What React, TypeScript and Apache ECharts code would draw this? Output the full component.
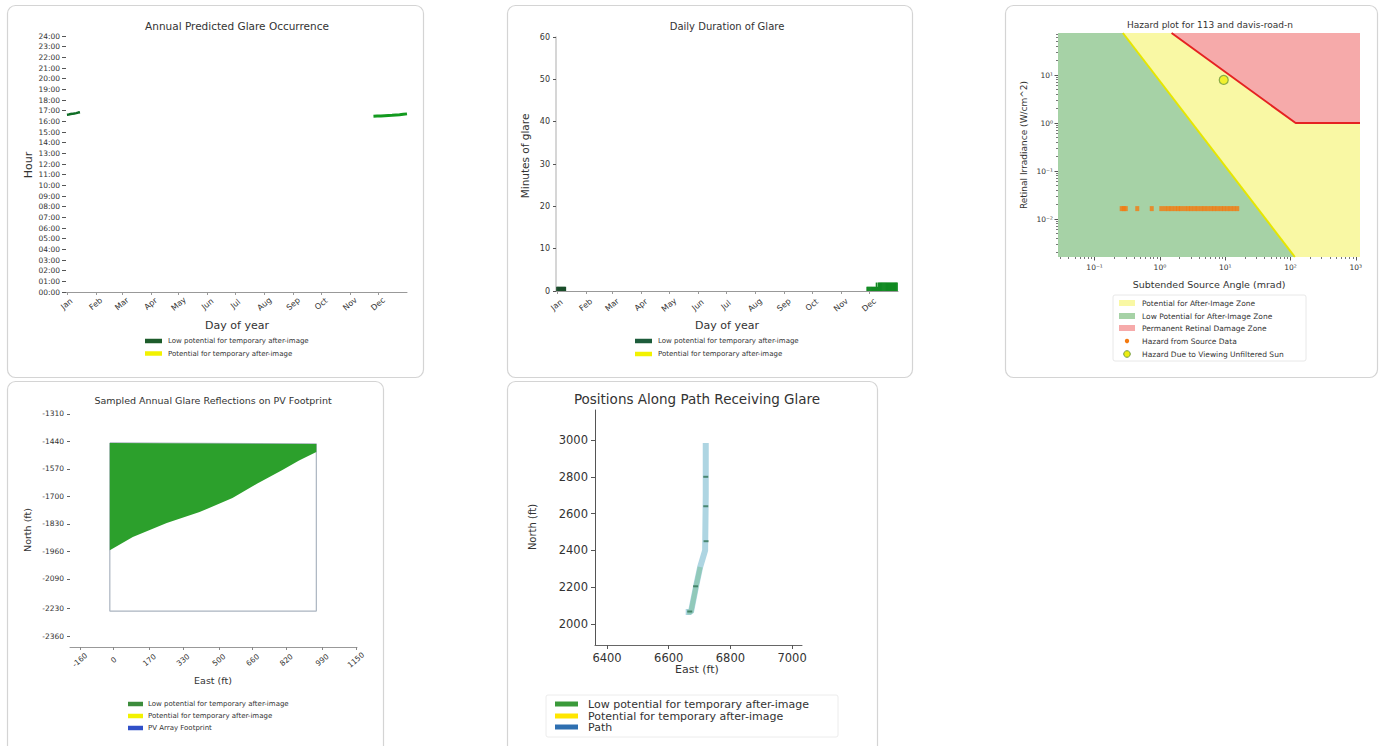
import React, { useEffect, useRef } from 'react';
import * as echarts from 'echarts';

const FONT = '"DejaVu Sans", sans-serif';

// ---------- Panel 1 & 2: calendar ----------
const months = ['Jan', 'Feb', 'Mar', 'Apr', 'May', 'Jun', 'Jul', 'Aug', 'Sep', 'Oct', 'Nov', 'Dec'];
const monthStartDays = [1, 32, 60, 91, 121, 152, 182, 213, 244, 274, 305, 335];

// Panel 1: annual predicted glare occurrence (day of year, hour)
const janGlareDays = [1, 3, 5, 7, 9, 11, 13, 15];
const janGlareHours = [16.62, 16.64, 16.68, 16.7, 16.74, 16.77, 16.82, 16.86];
const decGlareDays = [330, 334, 338, 342, 346, 350, 354, 358, 362, 366];
const decGlareHours = [16.47, 16.49, 16.5, 16.52, 16.54, 16.56, 16.59, 16.62, 16.66, 16.7];

// Panel 2: daily duration of glare (minutes)
const janDurDays = [1, 2, 3, 4, 5, 6, 7, 8, 9, 10];
const janDurMinutes = [1, 1, 1, 1, 1, 1, 1, 1, 1, 1];
const decDurDays = [333, 334, 335, 336, 337, 338, 339, 340, 341, 342, 343, 344, 345, 346, 347, 348, 349, 350, 351, 352, 353, 354, 355, 356, 357, 358, 359, 360, 361, 362, 363, 364, 365];
const decDurMinutes = [1, 1, 1, 1, 1, 1, 1, 1, 1, 1, 2, 1, 2, 2, 2, 2, 2, 2, 2, 2, 2, 2, 2, 2, 2, 2, 2, 2, 2, 2, 2, 2, 2];

// ---------- Panel 3: hazard plot ----------
const hazardXRange = [0.0275, 1161];
const hazardYRange = [0.00162, 75];
const afterImageLineX = [0.271, 116.7];
const afterImageLineY = [75, 0.00162];
const damageLineX = [1.51, 120, 1161];
const damageLineY = [75, 1.0, 1.0];
const hazardAngles = [0.26, 0.28, 0.3, 0.45, 0.75, 1.05, 1.2, 1.35, 1.5, 1.7, 1.9, 2.1, 2.4, 2.7, 3.0, 3.4, 3.8, 4.3, 4.8, 5.4, 6.1, 6.8, 7.6, 8.6, 9.6, 10.8, 12.1, 13.6, 15.3];
const hazardIrradiance = hazardAngles.map(() => 0.0165);
const sunAngle = [9.5];
const sunIrradiance = [7.9];
const xMajorExp = [-1, 0, 1, 2, 3];
const yMajorExp = [-2, -1, 0, 1];
const supLabels: Record<string, string> = { '-2': '10⁻²', '-1': '10⁻¹', '0': '10⁰', '1': '10¹', '2': '10²', '3': '10³' };

// ---------- Panel 4: PV footprint ----------
const p4XTicks = [-160, 0, 170, 330, 500, 660, 820, 990, 1150];
const p4YTicks = [-1310, -1440, -1570, -1700, -1830, -1960, -2090, -2230, -2360];
const glareEast = [-18, 962, 962, 880, 801, 680, 564, 408, 252, 91, -18];
const glareNorth = [-1447, -1452, -1490, -1530, -1575, -1640, -1708, -1774, -1826, -1892, -1954];
const footprintEast = [-18, -18, 962, 962, -18];
const footprintNorth = [-1447, -2242, -2242, -1452, -1447];

// ---------- Panel 5: path ----------
const p5XTicks = [6400, 6600, 6800, 7000];
const p5YTicks = [2000, 2200, 2400, 2600, 2800, 3000];
const pathEast = [6655, 6672, 6688, 6702, 6718, 6720, 6720];
const pathNorth = [2065, 2065, 2200, 2310, 2400, 2700, 2984];
const glareSegEast = [6660, 6672, 6688, 6702];
const glareSegNorth = [2065, 2065, 2200, 2310];
const glarePtEast = [6720, 6720, 6721, 6687, 6668];
const glarePtNorth = [2800, 2640, 2450, 2205, 2068];

const zip = (a: number[], b: number[]) => a.map((v, i) => [v, b[i]]);
const lg = (v: number) => Math.log10(v);
const plain = (v: number) => String(v);

function txt(text: string, x: number, y: number, size: number, o: any = {}) {
  return {
    type: 'text', x, y, z: 100, silent: true, rotation: o.rotation || 0,
    style: {
      text, fill: o.color || '#333', fontSize: size, fontFamily: FONT, fontWeight: o.weight || 'normal',
      align: o.align || 'center', verticalAlign: 'middle', textAlign: o.align || 'center', textVerticalAlign: 'middle',
    },
  };
}
function swatch(x: number, y: number, w: number, h: number, color: string) {
  return { type: 'rect', z: 100, silent: true, shape: { x, y: y - h / 2, width: w, height: h }, style: { fill: color } };
}
function card(x: number, y: number, w: number, h: number) {
  return { type: 'rect', z: -10, silent: true, shape: { x, y, width: w, height: h, r: 8 }, style: { fill: '#fff', stroke: '#d4d4d4', lineWidth: 1.2 } };
}

function polySeries(xi: number, yi: number, pts: number[][], color: string, z = 1) {
  return {
    type: 'custom', xAxisIndex: xi, yAxisIndex: yi, silent: true, clip: true, z,
    data: [pts[0]],
    renderItem: (_p: any, api: any) => ({
      type: 'polygon',
      shape: { points: pts.map((p) => api.coord(p)) },
      style: { fill: color },
    }),
  };
}

export default function App() {
  const ref = useRef<HTMLDivElement>(null);
  useEffect(() => {
    if (!ref.current) return;
    const chart = echarts.init(ref.current, undefined, { renderer: 'svg' });

    const lx0 = lg(hazardXRange[0]), lx1 = lg(hazardXRange[1]);
    const ly0 = lg(hazardYRange[0]), ly1 = lg(hazardYRange[1]);
    const xMinor: number[] = [];
    const yMinor: number[] = [];
    for (let n = -3; n <= 3; n++) {
      for (let k = 2; k <= 9; k++) {
        const v = Math.log10(k) + n;
        if (v > lx0 && v < lx1) xMinor.push(v);
        if (v > ly0 && v < ly1) yMinor.push(v);
      }
    }
    const tickLbl = { color: '#333', fontFamily: FONT };

    const greenZone = [[lx0, ly0], [lx1, ly0], [lx1, ly1], [lx0, ly1]];
    const aiTop = [lg(afterImageLineX[0]), lg(afterImageLineY[0])];
    const aiBot = [lg(afterImageLineX[1]), lg(afterImageLineY[1])];
    const yellowZone = [aiTop, [lx1, ly1], [lx1, ly0], aiBot];
    const dmg = zip(damageLineX.map(lg), damageLineY.map(lg));
    const redZone = [dmg[0], dmg[1], dmg[2], [lx1, ly1]];

    const option: any = {
      animation: false,
      grid: [
        { left: 66, top: 36, width: 341, height: 256 },
        { left: 556, top: 37, width: 342, height: 254 },
        { left: 1058, top: 33, width: 302, height: 224 },
        { left: 70, top: 404, width: 287, height: 243 },
        { left: 595, top: 410, width: 207, height: 235 },
      ],
      xAxis: [
        {
          gridIndex: 0, type: 'value', min: 0, max: 366, splitLine: { show: false },
          axisLine: { show: true, onZero: false, lineStyle: { color: '#999', width: 1 } },
          axisTick: { show: true, customValues: monthStartDays, length: 3, lineStyle: { color: '#999' } },
          axisLabel: { ...tickLbl, customValues: monthStartDays, formatter: (v: number) => months[monthStartDays.indexOf(v)], rotate: 40, align: 'center', verticalAlign: 'middle', margin: 12, fontSize: 8 },
        },
        {
          gridIndex: 1, type: 'value', min: 0, max: 366, splitLine: { show: false },
          axisLine: { show: true, onZero: false, lineStyle: { color: '#999', width: 1 } },
          axisTick: { show: true, customValues: monthStartDays, length: 3, lineStyle: { color: '#999' } },
          axisLabel: { ...tickLbl, customValues: monthStartDays, formatter: (v: number) => months[monthStartDays.indexOf(v)], rotate: 40, align: 'center', verticalAlign: 'middle', margin: 14, fontSize: 8 },
        },
        {
          gridIndex: 2, type: 'value', position: 'bottom', min: lx0, max: lx1, splitLine: { show: false },
          axisLine: { show: false, onZero: false },
          axisTick: { show: true, customValues: xMajorExp, length: 3.5, lineStyle: { color: '#555' } },
          axisLabel: { ...tickLbl, customValues: xMajorExp, formatter: (v: number) => supLabels[String(v)], fontSize: 7.5, margin: 6 },
        },
        {
          gridIndex: 2, type: 'value', position: 'bottom', min: lx0, max: lx1, splitLine: { show: false },
          axisLine: { show: false, onZero: false }, axisLabel: { show: false },
          axisTick: { show: true, customValues: xMinor, length: 2, lineStyle: { color: '#777' } },
        },
        {
          gridIndex: 3, type: 'value', min: -207, max: 1155, splitLine: { show: false },
          axisLine: { show: true, onZero: false, lineStyle: { color: '#999', width: 1 } },
          axisTick: { show: true, customValues: p4XTicks, length: 3, lineStyle: { color: '#888' } },
          axisLabel: { ...tickLbl, customValues: p4XTicks, formatter: plain, rotate: 40, align: 'center', verticalAlign: 'middle', margin: 13, fontSize: 7.5 },
        },
        {
          gridIndex: 4, type: 'value', min: 6361, max: 7032, splitLine: { show: false },
          axisLine: { show: true, onZero: false, lineStyle: { color: '#666', width: 1 } },
          axisTick: { show: true, customValues: p5XTicks, length: 4, lineStyle: { color: '#555' } },
          axisLabel: { ...tickLbl, customValues: p5XTicks, formatter: plain, fontSize: 11.5, margin: 7 },
        },
      ],
      yAxis: [
        {
          gridIndex: 0, type: 'value', min: 0, max: 24, interval: 1, splitLine: { show: false },
          axisLine: { show: false, onZero: false },
          axisTick: { show: true, length: 4, lineStyle: { color: '#555' } },
          axisLabel: { ...tickLbl, fontSize: 7.5, margin: 6, formatter: (v: number) => (v < 10 ? '0' : '') + v + ':00' },
        },
        {
          gridIndex: 1, type: 'value', min: 0, max: 60, interval: 10, splitLine: { show: false },
          axisLine: { show: true, onZero: false, lineStyle: { color: '#c8c8c8', width: 1.5 } },
          axisTick: { show: true, length: 3, lineStyle: { color: '#555' } },
          axisLabel: { ...tickLbl, fontSize: 8, margin: 6 },
        },
        {
          gridIndex: 2, type: 'value', position: 'left', min: ly0, max: ly1, splitLine: { show: false },
          axisLine: { show: false, onZero: false },
          axisTick: { show: true, customValues: yMajorExp, length: 3.5, lineStyle: { color: '#555' } },
          axisLabel: { ...tickLbl, customValues: yMajorExp, formatter: (v: number) => supLabels[String(v)], fontSize: 7.5, margin: 5 },
        },
        {
          gridIndex: 2, type: 'value', position: 'left', min: ly0, max: ly1, splitLine: { show: false },
          axisLine: { show: false, onZero: false }, axisLabel: { show: false },
          axisTick: { show: true, customValues: yMinor, length: 2, lineStyle: { color: '#777' } },
        },
        {
          gridIndex: 3, type: 'value', min: -2412, max: -1263, splitLine: { show: false },
          axisLine: { show: false, onZero: false },
          axisTick: { show: true, customValues: p4YTicks, length: 3, lineStyle: { color: '#666' } },
          axisLabel: { ...tickLbl, customValues: p4YTicks, formatter: plain, fontSize: 7.5, margin: 6 },
        },
        {
          gridIndex: 4, type: 'value', min: 1886, max: 3163, splitLine: { show: false },
          axisLine: { show: true, onZero: false, lineStyle: { color: '#555', width: 1 } },
          axisTick: { show: true, customValues: p5YTicks, length: 4, lineStyle: { color: '#555' } },
          axisLabel: { ...tickLbl, customValues: p5YTicks, formatter: plain, fontSize: 11.5, margin: 7 },
        },
      ],
      series: [
        // Panel 1
        { type: 'line', xAxisIndex: 0, yAxisIndex: 0, data: zip(janGlareDays, janGlareHours), symbol: 'none', lineStyle: { color: '#0f6e26', width: 2.5 }, silent: true },
        { type: 'line', xAxisIndex: 0, yAxisIndex: 0, data: zip(decGlareDays, decGlareHours), symbol: 'none', lineStyle: { color: '#139a1f', width: 3 }, silent: true },
        // Panel 2
        { type: 'bar', xAxisIndex: 1, yAxisIndex: 1, data: zip(janDurDays, janDurMinutes), barWidth: 1.6, itemStyle: { color: '#1a4d2a' }, silent: true },
        { type: 'bar', xAxisIndex: 1, yAxisIndex: 1, data: zip(decDurDays, decDurMinutes), barWidth: 1.6, barGap: '-100%', itemStyle: { color: '#118a22' }, silent: true },
        // Panel 3 zones
        polySeries(2, 2, greenZone, '#a6d2a6', 1),
        polySeries(2, 2, yellowZone, '#f9f8a4', 2),
        polySeries(2, 2, redZone, '#f6aaaa', 3),
        { type: 'line', xAxisIndex: 2, yAxisIndex: 2, z: 4, data: [aiTop, aiBot], symbol: 'none', lineStyle: { color: '#e6e600', width: 2 }, silent: true },
        { type: 'line', xAxisIndex: 2, yAxisIndex: 2, z: 4, data: dmg, symbol: 'none', lineStyle: { color: '#e52222', width: 2 }, silent: true },
        { type: 'scatter', xAxisIndex: 2, yAxisIndex: 2, z: 5, data: zip(hazardAngles.map(lg), hazardIrradiance.map(lg)), symbol: 'rect', symbolSize: [4, 5], itemStyle: { color: '#f47a10' }, silent: true },
        { type: 'scatter', xAxisIndex: 2, yAxisIndex: 2, z: 6, data: zip(sunAngle.map(lg), sunIrradiance.map(lg)), symbol: 'circle', symbolSize: 9, itemStyle: { color: '#eded10', borderColor: '#6f9a3c', borderWidth: 1.2 }, silent: true },
        // Panel 4
        { type: 'line', xAxisIndex: 4, yAxisIndex: 4, z: 1, data: zip(footprintEast, footprintNorth), symbol: 'none', lineStyle: { color: '#aab4c0', width: 1.2 }, silent: true },
        polySeries(4, 4, zip(glareEast, glareNorth), '#2ca02c', 2),
        // Panel 5
        { type: 'line', xAxisIndex: 5, yAxisIndex: 5, z: 1, data: zip(pathEast, pathNorth), symbol: 'none', lineStyle: { color: '#aed5e2', width: 6 }, silent: true },
        { type: 'line', xAxisIndex: 5, yAxisIndex: 5, z: 2, data: zip(glareSegEast, glareSegNorth), symbol: 'none', lineStyle: { color: '#2ca02c', width: 5, opacity: 0.22 }, silent: true },
        { type: 'scatter', xAxisIndex: 5, yAxisIndex: 5, z: 3, data: zip(glarePtEast, glarePtNorth), symbol: 'rect', symbolSize: [5, 2], itemStyle: { color: '#2f7355', opacity: 0.8 }, silent: true },
      ],
      graphic: [
        card(7.5, 5.5, 416, 372),
        card(507.5, 5.5, 405, 372),
        card(1005.5, 5.5, 372, 372),
        card(7.5, 381.5, 376, 380),
        card(507.5, 381.5, 370, 380),
        // Panel 1 texts
        txt('Annual Predicted Glare Occurrence', 237, 26, 10.5),
        txt('Hour', 28, 165, 11, { rotation: Math.PI / 2 }),
        txt('Day of year', 237, 325, 11),
        swatch(145, 341, 17, 4.5, '#1d5c2b'),
        txt('Low potential for temporary after-image', 168, 341, 7, { align: 'left' }),
        swatch(145, 353.5, 17, 4.5, '#f2f200'),
        txt('Potential for temporary after-image', 168, 353.5, 7, { align: 'left' }),
        // Panel 2 texts
        txt('Daily Duration of Glare', 727, 26, 10),
        txt('Minutes of glare', 525, 156, 10.5, { rotation: Math.PI / 2 }),
        txt('Day of year', 727, 325, 11),
        swatch(635, 341, 17, 4.5, '#1d5c3b'),
        txt('Low potential for temporary after-image', 658, 341, 7, { align: 'left' }),
        swatch(635, 354, 17, 4.5, '#f2f200'),
        txt('Potential for temporary after-image', 658, 354, 7, { align: 'left' }),
        // Panel 3 texts
        txt('Hazard plot for 113 and davis-road-n', 1210, 25, 9),
        txt('Retinal Irradiance (W/cm^2)', 1024, 145, 9, { rotation: Math.PI / 2 }),
        txt('Subtended Source Angle (mrad)', 1209, 284, 9.5),
        { type: 'rect', z: 99, silent: true, shape: { x: 1113, y: 295, width: 193, height: 66, r: 2 }, style: { fill: '#fff', stroke: '#e8e8e8', lineWidth: 1 } },
        swatch(1119, 303, 16, 6, '#f9f8a4'),
        txt('Potential for After-Image Zone', 1142, 303, 7.5, { align: 'left' }),
        swatch(1119, 316, 16, 6, '#a6d2a6'),
        txt('Low Potential for After-Image Zone', 1142, 316, 7.5, { align: 'left' }),
        swatch(1119, 328, 16, 6, '#f6aaaa'),
        txt('Permanent Retinal Damage Zone', 1142, 328, 7.5, { align: 'left' }),
        { type: 'circle', z: 100, silent: true, shape: { cx: 1127, cy: 341, r: 2.2 }, style: { fill: '#f47a10' } },
        txt('Hazard from Source Data', 1142, 341, 7.5, { align: 'left' }),
        { type: 'circle', z: 100, silent: true, shape: { cx: 1127, cy: 354, r: 3.3 }, style: { fill: '#eded10', stroke: '#6f9a3c', lineWidth: 1 } },
        txt('Hazard Due to Viewing Unfiltered Sun', 1142, 354, 7.5, { align: 'left' }),
        // Panel 4 texts
        txt('Sampled Annual Glare Reflections on PV Footprint', 213, 400, 9.5),
        txt('North (ft)', 27, 530, 9.5, { rotation: Math.PI / 2 }),
        txt('East (ft)', 213, 680, 9.5),
        swatch(128, 704, 15, 4.5, '#3c8c3c'),
        txt('Low potential for temporary after-image', 148, 704, 7, { align: 'left' }),
        swatch(128, 716, 15, 4.5, '#f2f200'),
        txt('Potential for temporary after-image', 148, 716, 7, { align: 'left' }),
        swatch(128, 728, 15, 4.5, '#3050c8'),
        txt('PV Array Footprint', 148, 728, 7, { align: 'left' }),
        // Panel 5 texts
        txt('Positions Along Path Receiving Glare', 697, 399, 13.5),
        txt('North (ft)', 532, 527, 10, { rotation: Math.PI / 2 }),
        txt('East (ft)', 697, 669, 11),
        { type: 'rect', z: 99, silent: true, shape: { x: 546, y: 695, width: 292, height: 42, r: 2 }, style: { fill: '#fff', stroke: '#ececec', lineWidth: 1 } },
        swatch(555, 704, 23, 5, '#3a9a3a'),
        txt('Low potential for temporary after-image', 588, 704, 11, { align: 'left' }),
        swatch(555, 716, 23, 5, '#ffe600'),
        txt('Potential for temporary after-image', 588, 716, 11, { align: 'left' }),
        swatch(555, 727, 23, 5, '#2e6fb0'),
        txt('Path', 588, 727, 11, { align: 'left' }),
      ],
    };
    chart.setOption(option);
    return () => chart.dispose();
  }, []);
  return <div ref={ref} style={{ position: 'absolute', left: 0, top: 0, width: 1379, height: 746, background: '#fff' }} />;
}
